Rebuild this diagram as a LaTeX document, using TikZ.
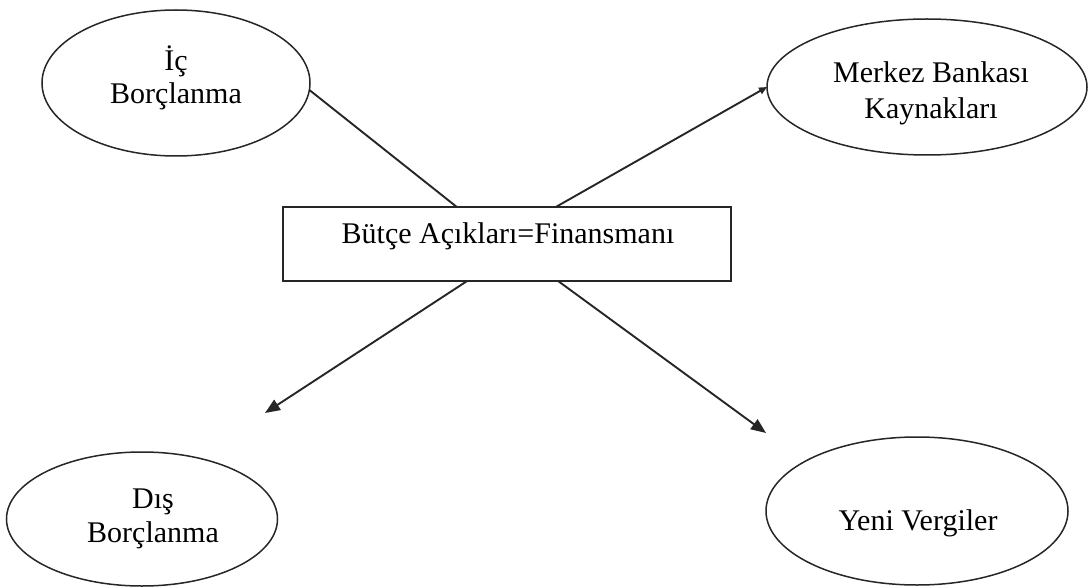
\documentclass[tikz,border=0pt]{standalone}
\usepackage{fontspec}
\setmainfont{Liberation Serif}
\usetikzlibrary{arrows.meta,shapes.geometric,calc}
\newcommand\lbl[3]{\raisebox{#2}[0pt][0pt]{\makebox[0pt]{\hspace{#1}\hspace{#1}\begin{tabular}[t]{@{}c@{}}#3\end{tabular}}}}
\begin{document}
\begin{tikzpicture}[x=1pt,y=-1pt,
  font=\fontsize{30}{33}\selectfont,
  ell/.style={ellipse, draw=black!85, line width=1.5pt, inner sep=0pt, outer sep=0pt},
  boxst/.style={rectangle, draw=black!85, line width=1.8pt, inner sep=0pt, outer sep=0pt},
  ln/.style={draw=black!85, line width=1.9pt},
  bigtip/.style={-{Triangle[length=15pt,width=12pt]}},
  smalltip/.style={-{Triangle[length=8pt,width=7pt]}}]
\useasboundingbox (0,0) rectangle (1092,588);
\node[ell, minimum width=268, minimum height=146] (ic) at (176,83) {\lbl{0pt}{12pt}{İç\\Borçlanma}};
\node[ell, minimum width=320, minimum height=136] (mb) at (927,87) {\lbl{4pt}{4pt}{Merkez Bankası\\[3pt]Kaynakları}};
\node[ell, minimum width=271, minimum height=134] (db) at (142,519) {\lbl{11pt}{11pt}{Dış\\[1pt]Borçlanma}};
\node[ell, minimum width=302, minimum height=148] (yv) at (917,511) {\lbl{1pt}{-19pt}{Yeni Vergiler}};
\node[boxst, minimum width=448, minimum height=74] (bx) at (507,244) {\lbl{1pt}{1pt}{Bütçe Açıkları=Finansmanı}};
\coordinate (dbTip) at (265,413);
\coordinate (yvTip) at (766,433);
\draw[ln] ($(bx.north west)!0.388!(bx.north east)$) -- (ic.-3);
\draw[ln, smalltip] ($(bx.north west)!0.609!(bx.north east)$) -- (mb.west);
\draw[ln, bigtip] ($(bx.south west)!0.411!(bx.south east)$) -- (dbTip);
\draw[ln, bigtip] ($(bx.south west)!0.614!(bx.south east)$) -- (yvTip);
\end{tikzpicture}
\end{document}
